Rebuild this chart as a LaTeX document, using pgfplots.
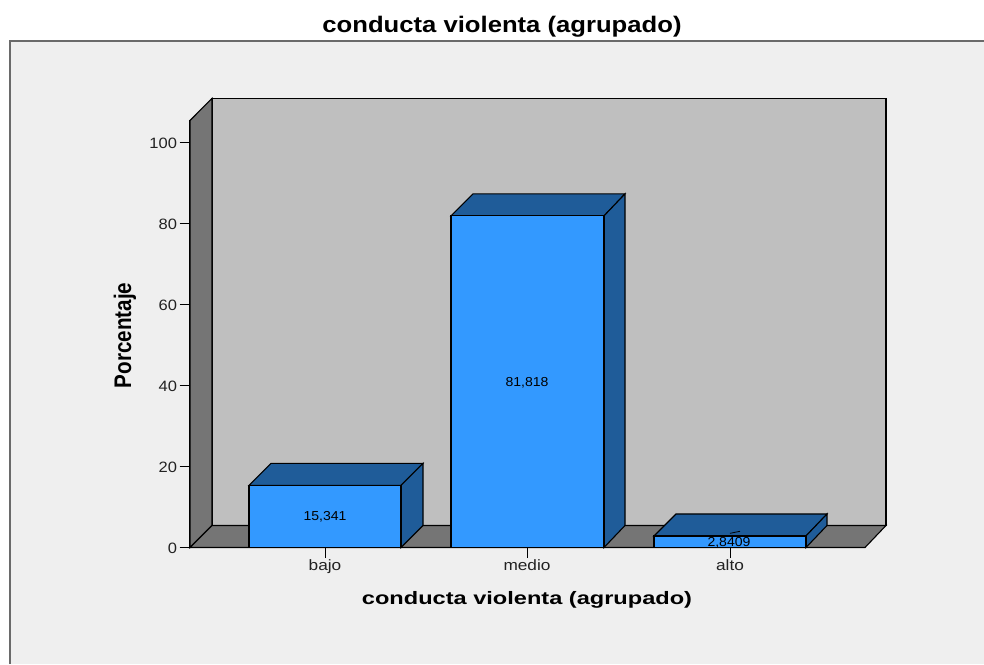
\documentclass[border=0pt]{standalone}
\usepackage{pgfplots}
\pgfplotsset{compat=1.18}
\usepackage{fontspec}
\setmainfont{Liberation Sans}
\definecolor{bgc}{HTML}{EFEFEF}
\definecolor{framec}{HTML}{6A6A6A}
\definecolor{wallc}{HTML}{BFBFBF}
\definecolor{sidec}{HTML}{757575}
\definecolor{barf}{HTML}{3399FF}
\definecolor{bard}{HTML}{1F5C99}
\definecolor{txt}{HTML}{222222}
\newcommand{\xs}[2]{\scalebox{#1}[1]{#2}}
\begin{document}
\begin{tikzpicture}[x=1pt,y=1pt]
\useasboundingbox (0,0) rectangle (984,664);
\fill[white] (0,0) rectangle (984,664);
\fill[bgc] (10,0) rectangle (984,623);
\draw[framec,line width=1.5pt] (10,0) -- (10,623) -- (984,623);
\begin{axis}[
  at={(190pt,116.5pt)}, anchor=south west,
  scale only axis, width=675pt, height=427pt,
  xmin=190, xmax=865, ymin=0, ymax=105.35,
  clip=false,
  axis x line=bottom, axis y line=left,
  axis line style={-,black,line width=1.1pt},
  tick align=outside,
  major tick length=10.5pt,
  every tick/.style={black,line width=1pt},
  x tick style={black,line width=1pt},
  y tick style={black,line width=1pt},
  xtick={325,527,730}, xticklabels={\xs{1.15}{bajo},\xs{1.15}{medio},\xs{1.15}{alto}},
  ytick={0,20,40,60,80,100},
  yticklabel={\xs{1.1}{\pgfmathprintnumber{\tick}}},
  /pgf/number format/assume math mode=true,
  tick label style={font=\fontsize{15}{17}\selectfont,text=txt},
  xticklabel style={yshift=2pt},
  yticklabel style={xshift=1pt,yshift=-1pt},
  every axis title shift=0pt,
  title={\xs{1.14}{\textbf{conducta violenta (agrupado)}}},
  title style={at={(axis cs:502,128.55)},anchor=center,font=\fontsize{22.5}{26}\selectfont,text=black},
  xlabel={\xs{1.31}{\textbf{conducta violenta (agrupado)}}},
  xlabel style={at={(axis cs:527,-13.0)},anchor=center,font=\fontsize{18}{22}\selectfont,text=black},
  ylabel={\xs{0.86}{\textbf{Porcentaje}}},
  ylabel style={at={(axis cs:125,52.3)},anchor=center,rotate=0,font=\fontsize{24}{28}\selectfont,text=black},
]
% walls
\addplot[draw=black,line width=1.1pt,fill=wallc] coordinates {(212,5.43) (886,5.43) (886,110.8) (212,110.8)} --cycle;
\addplot[draw=black,line width=1.1pt,fill=sidec] coordinates {(190,0) (212,5.43) (212,110.8) (190,105.35)} --cycle;
\addplot[draw=black,line width=1.1pt,fill=sidec] coordinates {(190,0) (865,0) (886,5.43) (212,5.43)} --cycle;
% bajo
\addplot[draw=black,line width=1.1pt,fill=bard] coordinates {(249,15.341) (401,15.341) (423,20.771) (271,20.771)} --cycle;
\addplot[draw=black,line width=1.1pt,fill=bard] coordinates {(401,0) (423,5.43) (423,20.771) (401,15.341)} --cycle;
\addplot[draw=black,line width=1.1pt,fill=barf] coordinates {(249,0) (401,0) (401,15.341) (249,15.341)} --cycle;
% medio
\addplot[draw=black,line width=1.1pt,fill=bard] coordinates {(451,81.818) (604,81.818) (625,87.248) (473,87.248)} --cycle;
\addplot[draw=black,line width=1.1pt,fill=bard] coordinates {(604,0) (625,5.43) (625,87.248) (604,81.818)} --cycle;
\addplot[draw=black,line width=1.1pt,fill=barf] coordinates {(451,0) (604,0) (604,81.818) (451,81.818)} --cycle;
% alto
\addplot[draw=black,line width=1.1pt,fill=bard] coordinates {(654,2.8409) (806,2.8409) (827,8.271) (676,8.271)} --cycle;
\addplot[draw=black,line width=1.1pt,fill=bard] coordinates {(806,0) (827,5.43) (827,8.271) (806,2.8409)} --cycle;
\addplot[draw=black,line width=1.1pt,fill=barf] coordinates {(654,0) (806,0) (806,2.8409) (654,2.8409)} --cycle;
\addplot[draw=black,line width=0.8pt] coordinates {(730,3.5) (740,4.0)};
\node[font=\fontsize{13}{15}\selectfont,text=black] at (axis cs:325,7.5) {\xs{1.08}{15,341}};
\node[font=\fontsize{13}{15}\selectfont,text=black] at (axis cs:527,40.6) {\xs{1.08}{81,818}};
\node[font=\fontsize{13}{15}\selectfont,text=black] at (axis cs:729,1.25) {\xs{1.08}{2,8409}};
\end{axis}
\end{tikzpicture}
\end{document}
